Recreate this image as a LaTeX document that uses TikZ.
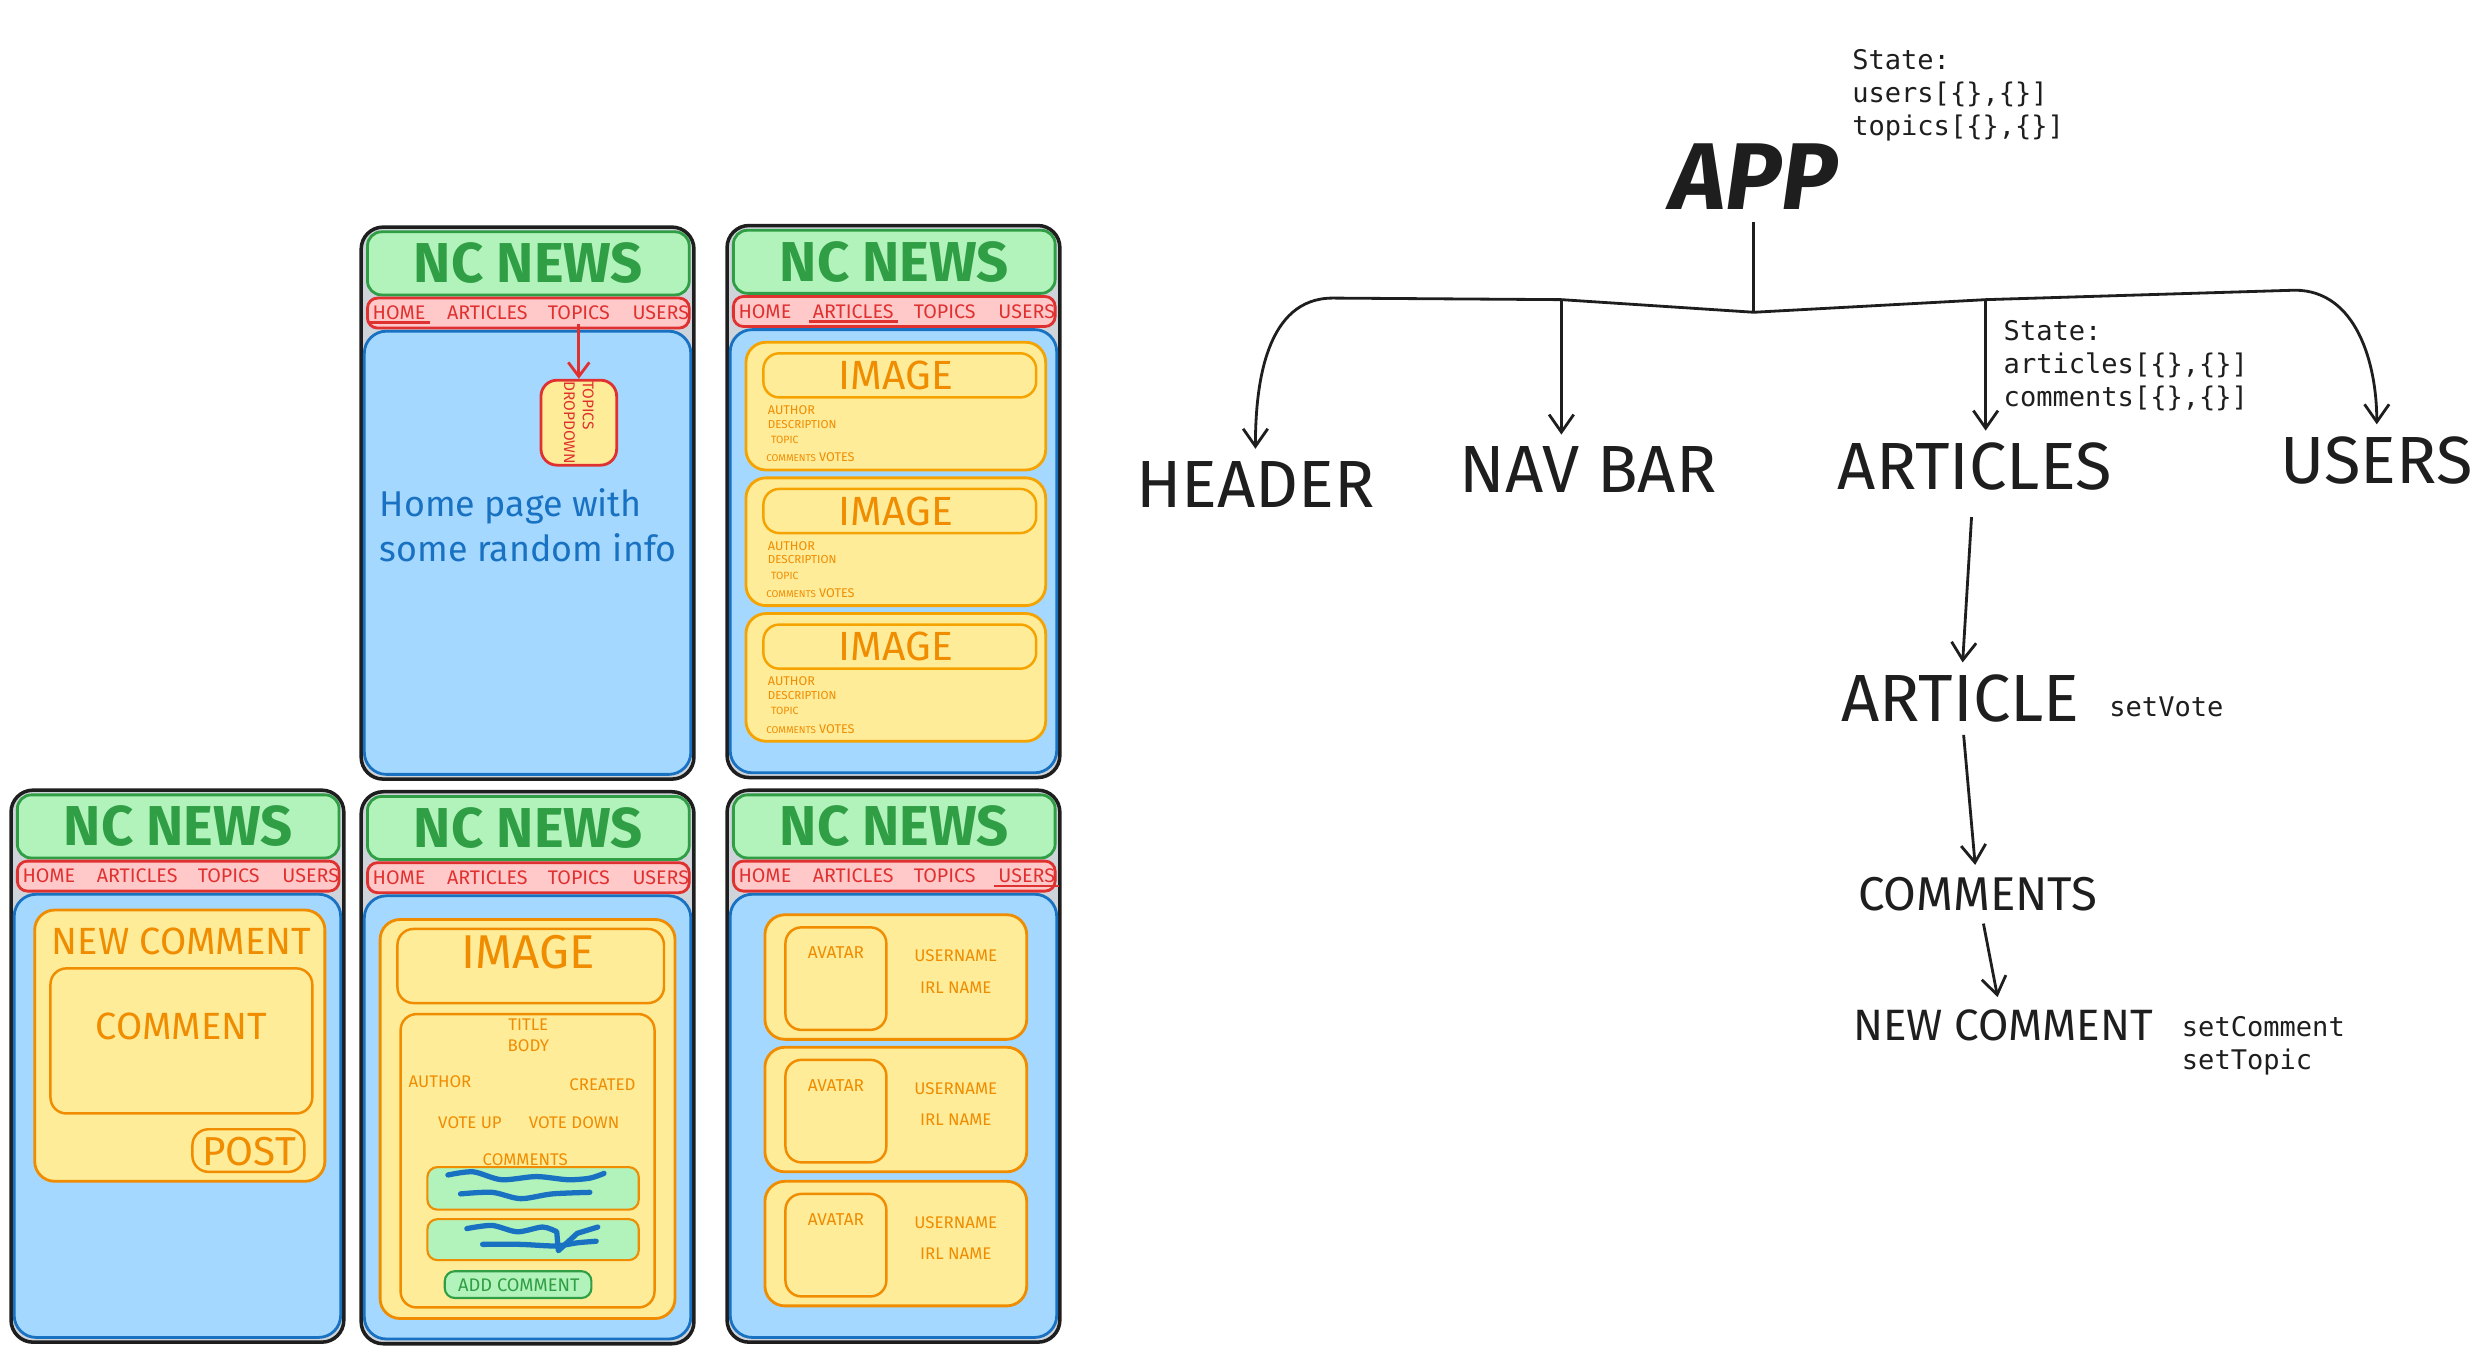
\documentclass[tikz,border=0pt]{standalone}
\usepackage{fontspec}
\setmainfont{Fira Sans}
\setmonofont{DejaVu Sans Mono}
\usetikzlibrary{arrows.meta,positioning,calc}
\definecolor{grnF}{HTML}{B2F2BB}\definecolor{grnS}{HTML}{2F9E44}
\definecolor{redF}{HTML}{FFC9C9}\definecolor{redS}{HTML}{E03131}
\definecolor{bluF}{HTML}{A5D8FF}\definecolor{bluS}{HTML}{1971C2}
\definecolor{ylwF}{HTML}{FFEC99}\definecolor{orgS}{HTML}{F08C00}
\definecolor{ylwS}{HTML}{F5A300}\definecolor{gryF}{HTML}{CED4DA}
\definecolor{ink}{HTML}{1E1E1E}
\tikzset{frm/.style={draw=ink,fill=gryF,line width=1pt,rounded corners=2.2mm},
 hdb/.style={draw=grnS,fill=grnF,line width=.8pt,rounded corners=1.4mm},
 nvb/.style={draw=redS,fill=redF,line width=.8pt,rounded corners=1mm},
 bdb/.style={draw=bluS,fill=bluF,line width=.8pt,rounded corners=2.2mm},
 crd/.style={draw=orgS,fill=ylwF,line width=.8pt,rounded corners=2mm},
 box/.style={draw=orgS,line width=.7pt,rounded corners=1.6mm},
 gbx/.style={draw=orgS,fill=grnF,line width=.6pt,rounded corners=1mm},
 scr/.style={draw=bluS,line width=1.5pt,line cap=round,line join=round},
 nc/.style={text=grnS,font=\fontsize{16}{16}\selectfont\bfseries},
 nv/.style={text=redS,font=\fontsize{5.6}{6}\selectfont,inner sep=1pt},
 ul/.style={draw=redS,line width=.8pt},
 ot/.style={text=orgS,font=\fontsize{#1}{#1}\selectfont},
 lab/.style={text=ink,font=\fontsize{19}{19}\selectfont},
 st/.style={text=ink,font=\ttfamily\fontsize{7.7}{9.4}\selectfont,align=left,anchor=north west,inner sep=0pt},
 flow/.style={draw=ink,line width=.8pt,-{Straight Barb[length=5pt,width=7pt]}},
 wire/.style={draw=ink,line width=.8pt}}
\begin{document}
\begin{tikzpicture}[x=0.01577cm,y=-0.01577cm]
\useasboundingbox (0,0) rectangle (1568,860);
% phone frames
\foreach \f/\px/\py in {1/229/144,2/461/143,3/7/501,4/229/502,5/461/501}{
 \begin{scope}[shift={(\px,\py)}]
 \draw[frm](0,0) rectangle (211,350);\draw[hdb](4,3) rectangle (208,43);
 \draw[nvb](4,45) rectangle (208,64);\draw[bdb](2,66) rectangle (209,347);
 \node[nc] (nc\f) at (106,23){NC NEWS};
 \foreach \k/\nx/\lab in {1/24/HOME,2/80/ARTICLES,3/138/TOPICS,4/190/USERS}
  \node[nv] (nv\f-\k) at (\nx,54.5){\lab};
 \end{scope}}
\draw[ul]([yshift=.4pt]nv1-1.south west)--([yshift=.4pt]nv1-1.south east);
\draw[ul]([yshift=.4pt]nv2-2.south west)--([yshift=.4pt]nv2-2.south east);
\draw[ul]([yshift=.4pt]nv5-4.south west)--([yshift=.4pt]nv5-4.south east);
% home
\node[draw=redS,fill=ylwF,line width=.8pt,rounded corners=1.6mm,minimum width=.757cm,minimum height=.85cm] (dd) at (367,268){};
\node[rotate=-90,align=left,text=redS,font=\fontsize{4.4}{5.4}\selectfont] (ddt) at (dd){TOPICS\\DROPDOWN};
\draw[redS,line width=.8pt,-{Straight Barb[length=4pt,width=6pt]}](nv1-3.south)--(nv1-3.south |- dd.north);
\node[anchor=west,align=left,text=bluS,font=\fontsize{10.2}{12.6}\selectfont] (hometx) at (233,333){Home page with\\some random info};
% articles list
\foreach \k/\cy in {1/217,2/303,3/389}{
 \draw[crd,draw=ylwS](473,\cy) rectangle (663,\cy+81);\draw[box,draw=ylwS](484,\cy+7) rectangle (657,\cy+35);
 \node[ot=11.6] (im\k) at (568,\cy+21){IMAGE};
 \node[ot=3.6,anchor=west] (au\k) at (479,\cy+43){AUTHOR};
 \node[ot=3.3,anchor=west] (de\k) at (479,\cy+52){DESCRIPTION};
 \node[ot=3,anchor=west] (tp\k) at (481,\cy+62){TOPIC};
 \node[ot=3.6,anchor=west] (cv\k) at (478,\cy+73){{\fontsize{2.8}{3}\selectfont COMMENTS} VOTES};}
% new comment
\draw[crd](22,577) rectangle (206,749);\node[ot=10.8] (ncm) at (115,597){NEW COMMENT};
\draw[box](32,614) rectangle (198,706);\node[ot=10.8] (cmt) at (115,651){COMMENT};
\draw[box](122,716) rectangle (193,743);\node[ot=11.5] (post) at (158,730){POST};
% single article
\draw[crd](241,583) rectangle (428,836);\draw[box](252,589) rectangle (421,636);
\node[ot=13.5] (im4) at (335,604){IMAGE};
\draw[box](254,643) rectangle (415,829);
\node[ot=4.8] (ttl) at (335,650){TITLE};\node[ot=4.8] (bdy) at (335,663){BODY};
\node[ot=4.8] (aut) at (279,686){AUTHOR};\node[ot=4.8] (crt) at (382,688){CREATED};
\node[ot=4.8] (vup) at (298,712){VOTE UP};\node[ot=4.8] (vdn) at (364,712){VOTE DOWN};
\node[ot=4.8] (cms) at (333,735){COMMENTS};
\draw[gbx](271,740) rectangle (405,767);\draw[gbx](271,773) rectangle (405,799);
\draw[scr] plot[smooth] coordinates {(284,745)(300,743)(318,748)(340,746)(360,748)(374,747)(383,744)};
\draw[scr] plot[smooth] coordinates {(292,757)(312,756)(330,760)(350,757)(374,756)};
\draw[scr] plot[smooth] coordinates {(296,779)(312,777)(328,781)(344,778)(353,781)}--(354,793)--(366,782)--(379,778);
\draw[scr] plot[smooth] coordinates {(306,789)(330,789)(352,790)(366,788)(378,787)};
\draw[gbx,draw=grnS](282,806) rectangle (375,823);
\node[text=grnS,font=\fontsize{5.2}{6}\selectfont] (addc) at (329,815){ADD COMMENT};
% users
\foreach \k/\cy in {1/580,2/664,3/749}{
 \draw[crd](485,\cy) rectangle (651,\cy+79);\draw[box](498,\cy+8) rectangle (562,\cy+73);
 \node[ot=4.9] (av\k) at (530,\cy+24){AVATAR};
 \node[ot=4.8] (un\k) at (606,\cy+26){USERNAME};\node[ot=4.8] (irl\k) at (606,\cy+46){IRL NAME};}
% component tree
\node[lab,font=\fontsize{27}{27}\selectfont\bfseries\itshape] (app) at (1112,112){APP};
\node[st] (st1) at (1174,31){State:\\users[\{\},\{\}]\\topics[\{\},\{\}]};
\node[lab] (header) at (796,307){HEADER};\node[lab] (navbar) at (1007,298){NAV BAR};
\node[lab] (articles) at (1252,296){ARTICLES};\node[lab] (users) at (1507,292){USERS};
\node[st] (st2) at (1270,203){State:\\articles[\{\},\{\}]\\comments[\{\},\{\}]};
\node[lab] (article) at (1243,443){ARTICLE};\node[st,anchor=west] (setvote) at (1337,448){setVote};
\node[lab,font=\fontsize{13.5}{14}\selectfont] (comments) at (1254,567){COMMENTS};
\node[lab,font=\fontsize{12.5}{13}\selectfont] (newcom) at (1270,650){NEW COMMENT};
\node[st] (setcom) at (1383,644){setComment\\setTopic};
\coordinate (root) at (1112,198);\coordinate (jn) at (990,190);\coordinate (ja) at (1259,190);
\draw[wire](app)--(root);
\draw[flow](root)--(jn)--(845,189) to[out=180,in=90] (header.north);
\draw[flow](root)--(ja)--(1455,184) to[out=0,in=90] (users.north);
\draw[flow](jn)--(jn |- navbar.north);\draw[flow](ja)--(ja |- articles.north);
\draw[flow,shorten <=4pt](articles)--(article);
\draw[flow](article)--(comments);\draw[flow](comments)--(newcom);
\end{tikzpicture}
\end{document}
